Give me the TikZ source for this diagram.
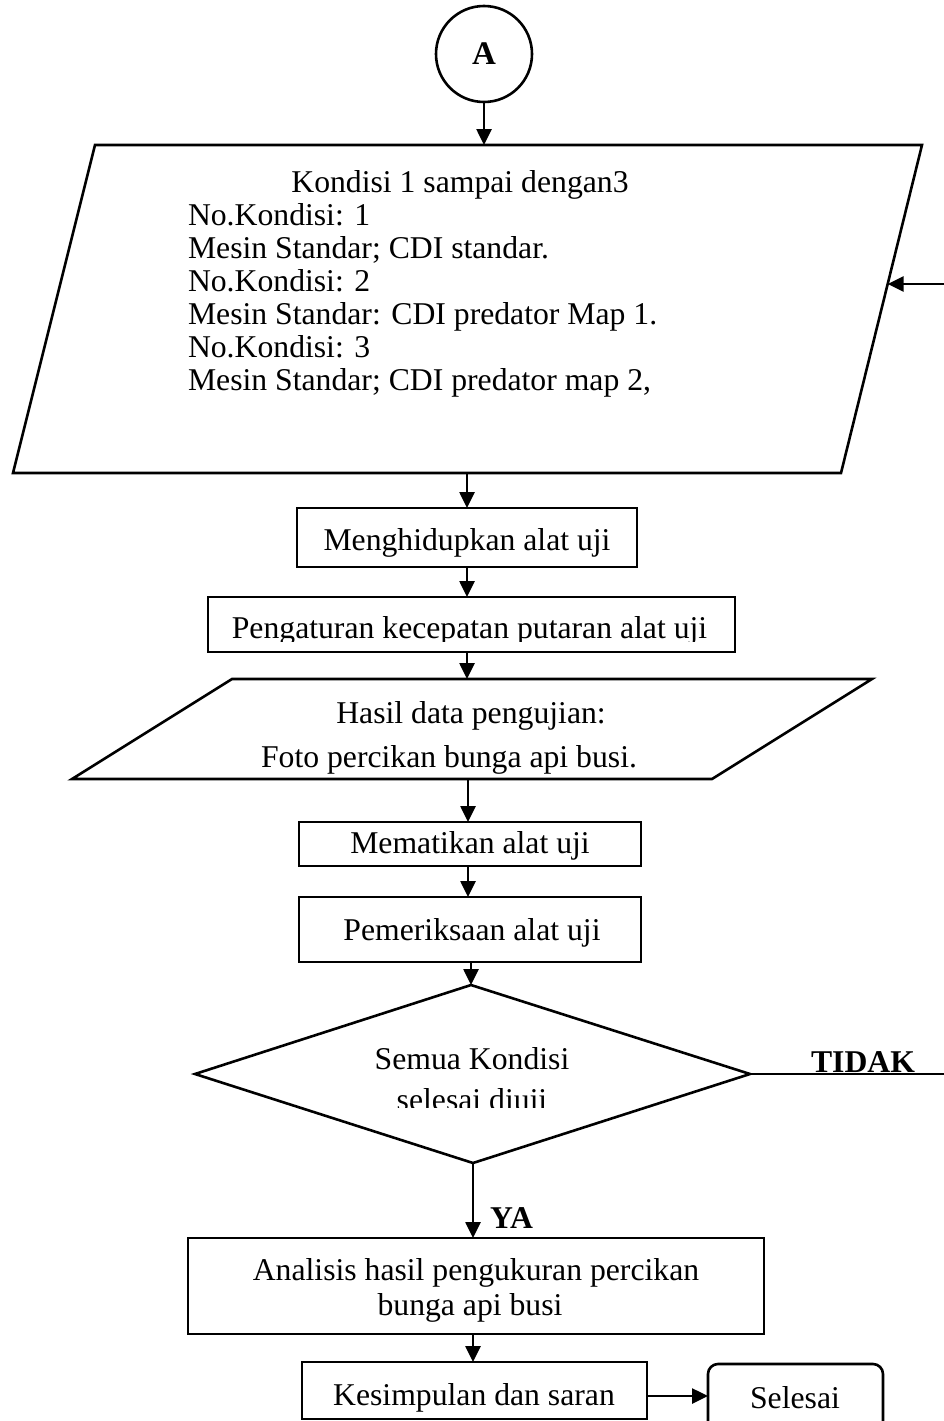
\documentclass[tikz,border=0pt]{standalone}
\usepackage{fontspec}
\setmainfont{Liberation Serif}
\usetikzlibrary{arrows.meta}
\begin{document}
\begin{tikzpicture}[x=1pt,y=-1pt,
  every node/.style={font=\fontsize{31.7pt}{33pt}\selectfont, inner sep=0pt, outer sep=0pt},
  edge/.style={line width=2.6pt, line join=miter},
  flow/.style={edge, -{Triangle[length=16pt,width=15pt]}},
  procbox/.style={draw, line width=2.6pt, rectangle},
  txt/.style={anchor=base},
  lefttxt/.style={anchor=base west},
  boldtxt/.style={anchor=base, font=\fontsize{31.7pt}{33pt}\selectfont\bfseries}
]
\useasboundingbox (0,0) rectangle (944,1421);

% connector circle
\node[draw, circle, line width=2.6pt, minimum size=96pt,
      font=\fontsize{33pt}{34pt}\selectfont\bfseries] (A) at (484,54) {A};

% input: test conditions
\coordinate (p1tl) at (95,145);
\coordinate (p1tr) at (922,145);
\coordinate (p1br) at (841,473);
\coordinate (p1bl) at (13,473);
\coordinate (p1t) at (484,145);
\coordinate (p1b) at (467,473);
\coordinate (p1r) at (887.7,284);
\draw[edge] (p1tl) -- (p1tr) -- (p1br) -- (p1bl) -- cycle;
\node[txt] (k0) at (460,192) {Kondisi 1 sampai dengan3};
\node[lefttxt] (k1) at (188,225) {No.Kondisi: 1};
\node[lefttxt] (k2) at (188,258) {Mesin Standar; CDI standar.};
\node[lefttxt] (k3) at (188,291) {No.Kondisi: 2};
\node[lefttxt] (k4) at (188,324) {Mesin Standar: CDI predator Map 1.};
\node[lefttxt] (k5) at (188,357) {No.Kondisi: 3};
\node[lefttxt] (k6) at (188,390) {Mesin Standar; CDI predator map 2,};

\draw[flow] (A.south) -- (p1t);

% switch on
\node[procbox, minimum width=340pt, minimum height=59pt] (b1) at (467,537.5) {};
\node[txt] (t1) at (467,550) {Menghidupkan alat uji};
\draw[flow] (p1b) -- (b1.north);

% speed setting
\node[procbox, minimum width=527pt, minimum height=55pt] (b2) at (471.5,624.5) {};
\begin{scope}
  \clip (208,597) rectangle (735,641);
  \node[txt] (t2) at (469.5,638) {Pengaturan kecepatan putaran alat uji};
\end{scope}
\draw[flow] (b1.south) -- (b1.south |- b2.north);

% output: test data
\coordinate (p2tl) at (232,679);
\coordinate (p2tr) at (872,679);
\coordinate (p2br) at (712,779);
\coordinate (p2bl) at (72,779);
\coordinate (p2t) at (467,679);
\coordinate (p2b) at (468,779);
\draw[edge] (p2tl) -- (p2tr) -- (p2br) -- (p2bl) -- cycle;
\node[txt] (h1) at (471,723) {Hasil data pengujian:};
\node[txt] (h2) at (449,767) {Foto percikan bunga api busi.};
\draw[flow] (b2.south -| p2t) -- (p2t);

% switch off
\node[procbox, minimum width=342pt, minimum height=44pt] (b3) at (470,844) {};
\node[txt] (t3) at (470,853) {Mematikan alat uji};
\draw[flow] (p2b) -- (p2b |- b3.north);

% inspection
\node[procbox, minimum width=342pt, minimum height=65pt] (b4) at (470,929.5) {};
\node[txt] (t4) at (472,940) {Pemeriksaan alat uji};
\draw[flow] (b3.south -| p2b) -- (p2b |- b4.north);

% decision
\coordinate (dt) at (471,985);
\coordinate (dl) at (195,1074);
\coordinate (dr) at (750,1074);
\coordinate (db) at (473,1163);
\draw[edge] (dt) -- (dr) -- (db) -- (dl) -- cycle;
\node[txt] (d1) at (472,1069) {Semua Kondisi};
\begin{scope}
  \clip (300,1080) rectangle (640,1107);
  \node[txt] (d2) at (472,1110) {selesai diuji};
\end{scope}
\draw[flow] (b4.south -| dt) -- (dt);

% loop back when not all conditions are done
\coordinate (loopa) at (947,1074);
\coordinate (loopb) at (947,284);
\draw[flow] (dr) -- (loopa) -- (loopb) -- (p1r);
\node[boldtxt] (no) at (863,1072) {TIDAK};

% analysis
\node[procbox, minimum width=576pt, minimum height=96pt] (b5) at (476,1286) {};
\node[txt] (a1) at (476,1280) {Analisis hasil pengukuran percikan};
\node[txt] (a2) at (470,1315) {bunga api busi};
\draw[flow] (db) -- (db |- b5.north);
\node[boldtxt, anchor=base west] (yes) at (490,1228) {YA};

% conclusion
\node[procbox, minimum width=345pt, minimum height=57pt] (b6) at (474.5,1390.5) {};
\node[txt] (c1) at (474,1405) {Kesimpulan dan saran};
\draw[flow] (b5.south -| db) -- (db |- b6.north);

% terminator
\node[draw, rounded corners=10pt, line width=2.6pt, minimum width=175pt,
      minimum height=80pt] (end) at (795.5,1404) {};
\node[txt] (e1) at (795,1408) {Selesai};
\draw[flow] (b6.east |- 0,1396) -- (end.west |- 0,1396);

\end{tikzpicture}
\end{document}
